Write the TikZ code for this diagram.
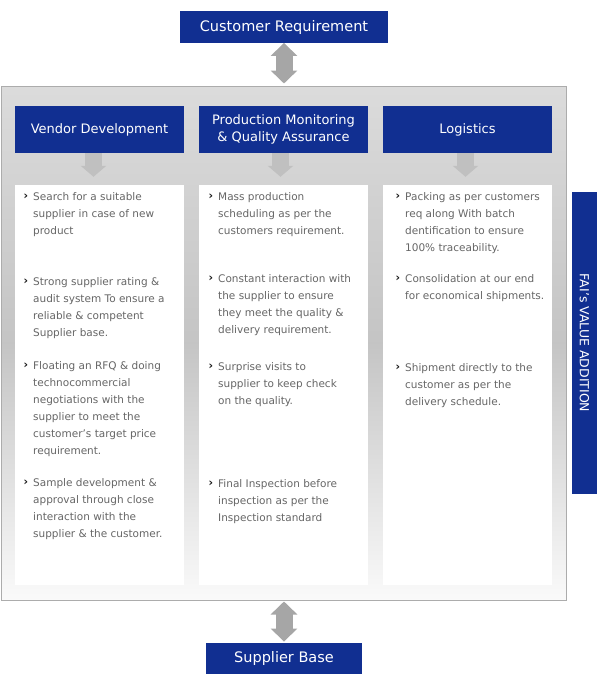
\documentclass[tikz,border=0pt]{standalone}
\usepackage{fontspec}
\setmainfont{DejaVu Sans}
\usetikzlibrary{arrows.meta,positioning}
\definecolor{faiblue}{RGB}{17,47,145}
\definecolor{bodygray}{RGB}{102,102,102}
\definecolor{arrowgray}{RGB}{166,166,166}
\definecolor{tipgray}{RGB}{192,192,192}
\newcommand{\chev}{\llap{\raisebox{1pt}{\fontsize{11}{11}\selectfont\bfseries\color{black!90}›}\hspace{5pt}}}

\begin{document}
\begin{tikzpicture}[x=1pt, y=-1pt,
title/.style={fill=faiblue, text=white, minimum height=31.5pt, inner sep=0pt, font=\fontsize{14.5}{17}\selectfont},
head/.style={fill=faiblue, text=white, minimum width=169pt, minimum height=47pt, inner sep=0pt, align=center, font=\fontsize{13}{17.5}\selectfont},
column/.style={fill=white, minimum width=169pt, minimum height=400pt, inner sep=0pt},
item/.style={anchor=north west, inner sep=0pt, align=left, text=bodygray, font=\fontsize{10.5}{17}\selectfont},
both/.style={arrowgray, line width=17pt, {Triangle[width=26pt,length=13pt]}-{Triangle[width=26pt,length=13pt]}},
down/.style={tipgray, line width=17pt, shorten >=8pt, -{Triangle[width=25pt,length=11pt]}}]
\useasboundingbox (0,0) rectangle (597,680);

\node[title, minimum width=208pt] (cust) at (284,27) {Customer Requirement};
\node[draw=gray!65, line width=1pt, top color=gray!28, bottom color=gray!4, middle color=gray!46, minimum width=565pt, minimum height=514pt, inner sep=0pt] (frame) at (283.5,343) {};
\node[title, minimum width=156pt] (sup) at (284,658.5) {Supplier Base};
\draw[both, shorten >=2pt] (cust.south) -- (cust.south |- frame.north);
\draw[both, shorten <=1pt, shorten >=1pt] (frame.south -| sup.north) -- (sup.north);

\node[head] (vd) at (99.5,129.5) {Vendor Development};
\node[head] (pm) at (283.5,129.5) {Production Monitoring\\\& Quality Assurance};
\node[head] (lg) at (467.5,129.5) {Logistics};
\node[column] (vdcol) at (99.5,385) {};
\node[column] (pmcol) at (283.5,385) {};
\node[column] (lgcol) at (467.5,385) {};
\draw[down] ([xshift=-6pt]vd.south) -- ([xshift=-6pt]vdcol.north);
\draw[down] ([xshift=-3pt]pm.south) -- ([xshift=-3pt]pmcol.north);
\draw[down] ([xshift=-2pt]lg.south) -- ([xshift=-2pt]lgcol.north);

\node[item] (v1) at (33,192.5) {\chev Search for a suitable\\supplier in case of new\\product};
\node[item] (v2) at (33,277.4) {\chev Strong supplier rating \&\\audit system To ensure a\\reliable \& competent\\Supplier base.};
\node[item] (v3) at (33,361.4) {\chev Floating an RFQ \& doing\\technocommercial\\negotiations with the\\supplier to meet the\\customer's target price\\requirement.};
\node[item] (v4) at (33,478.4) {\chev Sample development \&\\approval through close\\interaction with the\\supplier \& the customer.};

\node[item] (p1) at (218,192.4) {\chev Mass production\\scheduling as per the\\customers requirement.};
\node[item] (p2) at (218,274) {\chev Constant interaction with\\the supplier to ensure\\they meet the quality \&\\delivery requirement.};
\node[item] (p3) at (218,362.4) {\chev Surprise visits to\\supplier to keep check\\on the quality.};
\node[item] (p4) at (218,479) {\chev Final Inspection before\\inspection as per the\\Inspection standard};

\node[item] (l1) at (405,192.4) {\chev Packing as per customers\\req along With batch\\dentification to ensure\\100\% traceability.};
\node[item] (l2) at (405,274) {\chev Consolidation at our end\\for economical shipments.};
\node[item] (l3) at (405,363.4) {\chev Shipment directly to the\\customer as per the\\delivery schedule.};

\node[fill=faiblue, text=white, rotate=-90, minimum width=302pt, minimum height=25pt, inner sep=0pt, font=\fontsize{12.5}{14}\selectfont] (fai) at (584.5,343) {FAI's VALUE ADDITION};
\end{tikzpicture}
\end{document}
